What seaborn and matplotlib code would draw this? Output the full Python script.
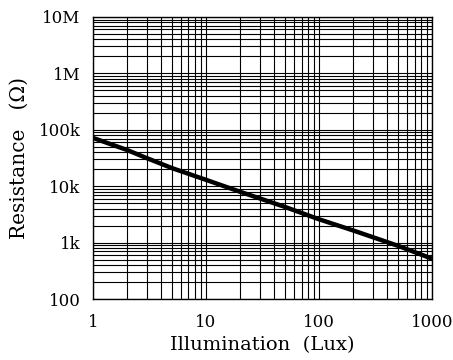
import numpy as np
import pandas as pd
import matplotlib
matplotlib.use("Agg")
import matplotlib.pyplot as plt
import seaborn as sns
from matplotlib.ticker import FixedLocator, LogLocator, NullFormatter

# data
lux = [1, 2, 3, 5, 10, 20, 50, 100, 200, 500, 1000]
resistance = [72000, 44000, 31500, 21000, 13000, 8000, 4300, 2600, 1650, 880, 520]

x_ticks = [1, 10, 100, 1000]
x_labels = ["1", "10", "100", "1000"]
y_ticks = [100, 1e3, 1e4, 1e5, 1e6, 1e7]
y_labels = ["100", "1k", "10k", "100k", "1M", "10M"]

df = pd.DataFrame({"lux": lux, "resistance": resistance})

sns.set_theme(style="white")
plt.rcParams["font.family"] = ["DejaVu Serif"]

fig, ax = plt.subplots(figsize=(4.53, 3.6), dpi=100)
fig.subplots_adjust(left=0.205, right=0.954, top=0.953, bottom=0.169)

sns.lineplot(data=df, x="lux", y="resistance", color="black", linewidth=3.2, ax=ax)

ax.set_xscale("log")
ax.set_yscale("log")
ax.set_xlim(1, 1000)
ax.set_ylim(100, 1e7)

ax.xaxis.set_major_locator(FixedLocator(x_ticks))
ax.set_xticklabels(x_labels)
ax.yaxis.set_major_locator(FixedLocator(y_ticks))
ax.set_yticklabels(y_labels)
ax.xaxis.set_minor_locator(LogLocator(base=10, subs=np.arange(2, 10)))
ax.yaxis.set_minor_locator(LogLocator(base=10, subs=np.arange(2, 10)))
ax.xaxis.set_minor_formatter(NullFormatter())
ax.yaxis.set_minor_formatter(NullFormatter())

ax.grid(True, which="both", color="black", linewidth=0.8)
ax.tick_params(which="both", length=0, labelsize=12, colors="black")
ax.tick_params(axis="x", pad=11)
ax.tick_params(axis="y", pad=9)
for s in ax.spines.values():
    s.set_color("black")
    s.set_linewidth(1)

ax.set_xlabel("Illumination  (Lux)", fontsize=14, color="black", labelpad=3)
ax.set_ylabel("Resistance   (Ω)", fontsize=14.5, color="black", labelpad=7)

fig.savefig("out.png", dpi=100)
